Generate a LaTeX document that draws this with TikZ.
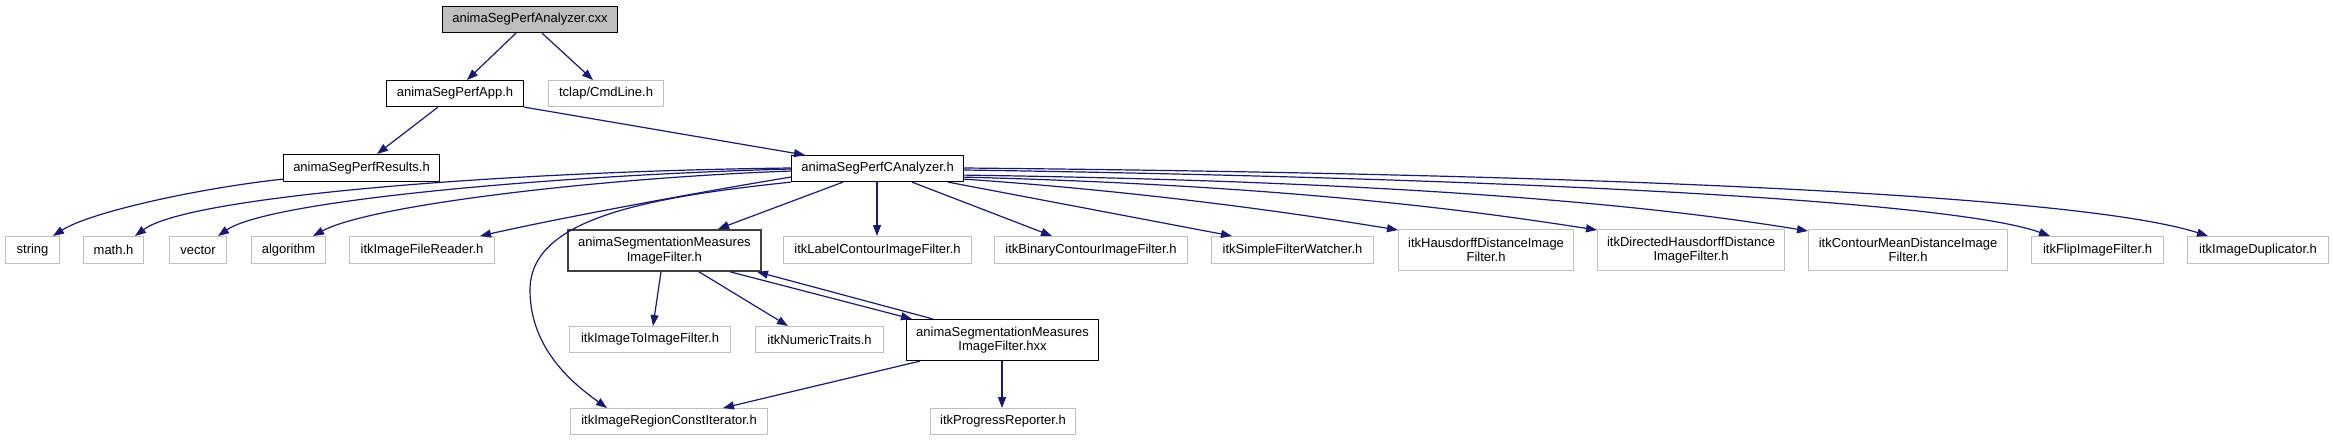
\documentclass[tikz,border=0pt]{standalone}
\usepackage{fontspec}
\setmainfont{Liberation Sans}
\usetikzlibrary{arrows.meta}
\definecolor{edgec}{HTML}{191970}
\definecolor{leafc}{HTML}{BFBFBF}
\definecolor{darkb}{HTML}{404040}
\definecolor{rootfill}{HTML}{BFBFBF}
\tikzset{
  basebox/.style={rectangle, inner sep=0pt, align=center, anchor=north west,
    font=\fontsize{13}{14.5}\selectfont, line width=1.1pt},
  leafbox/.style={basebox, draw=leafc},
  docbox/.style={basebox, draw=black},
  rootbox/.style={basebox, draw=black, fill=rootfill},
  midbox/.style={basebox, draw=darkb, line width=1.8pt},
  dep/.style={draw=edgec, line width=1.2pt, -{Triangle[length=11pt,width=8pt]}}
}
\newcommand\mkbox[7]{\node[#1, minimum width={#5-#3}, minimum height={#6-#4}] (#2) at (#3,#4) {#7};}
\begin{document}
\begin{tikzpicture}[x=1pt,y=-1pt]
\useasboundingbox (0,0) rectangle (2333,440);
% nodes
\mkbox{rootbox}{cxx}{442}{6}{617}{32}{animaSegPerfAnalyzer.cxx}
\mkbox{docbox}{app}{386}{80}{523}{106}{animaSegPerfApp.h}
\mkbox{leafbox}{tclap}{548}{80}{663}{106}{tclap/CmdLine.h}
\mkbox{docbox}{results}{283}{154}{439}{181}{animaSegPerfResults.h}
\mkbox{docbox}{canal}{791}{155}{963}{181}{animaSegPerfCAnalyzer.h}
\mkbox{leafbox}{string}{5}{236}{59}{263}{string}
\mkbox{leafbox}{math}{83}{236}{143}{263}{math.h}
\mkbox{leafbox}{vector}{169}{236}{226}{263}{vector}
\mkbox{leafbox}{algorithm}{251}{236}{325}{263}{algorithm}
\mkbox{leafbox}{reader}{349}{236}{494}{263}{itkImageFileReader.h}
\mkbox{midbox}{segh}{567}{229}{760}{270}{animaSegmentationMeasures\\ImageFilter.h}
\mkbox{leafbox}{label}{783}{236}{971}{263}{itkLabelContourImageFilter.h}
\mkbox{leafbox}{binary}{994}{236}{1187}{263}{itkBinaryContourImageFilter.h}
\mkbox{leafbox}{watcher}{1211}{236}{1373}{263}{itkSimpleFilterWatcher.h}
\mkbox{leafbox}{hausdorff}{1398}{229}{1573}{270}{itkHausdorffDistanceImage\\Filter.h}
\mkbox{leafbox}{directed}{1597}{229}{1784}{270}{itkDirectedHausdorffDistance\\ImageFilter.h}
\mkbox{leafbox}{contourmean}{1808}{229}{2007}{270}{itkContourMeanDistanceImage\\Filter.h}
\mkbox{leafbox}{flip}{2031}{236}{2163}{263}{itkFlipImageFilter.h}
\mkbox{leafbox}{dup}{2187}{236}{2328}{263}{itkImageDuplicator.h}
\mkbox{leafbox}{toimage}{569}{326}{730}{352}{itkImageToImageFilter.h}
\mkbox{leafbox}{numeric}{755}{326}{883}{352}{itkNumericTraits.h}
\mkbox{docbox}{segx}{906}{319}{1098}{360}{animaSegmentationMeasures\\ImageFilter.hxx}
\mkbox{leafbox}{regioniter}{570}{408}{767}{434}{itkImageRegionConstIterator.h}
\mkbox{leafbox}{progress}{930}{408}{1075}{434}{itkProgressReporter.h}
% edges
\draw[dep] ([xshift=74pt]cxx.south west) -- ([xshift=81pt]app.north west);
\draw[dep] ([xshift=100pt]cxx.south west) -- ([xshift=45pt]tclap.north west);
\draw[dep] ([xshift=52pt]app.south west) -- ([xshift=94pt]results.north west);
\draw[dep] (app.south east) -- ([xshift=14pt]canal.north west);
\draw[dep] ([yshift=3pt]results.south west) .. controls (200,188) and (90,212) .. ([xshift=48pt]string.north west);
\draw[dep] ([yshift=-13pt]canal.north west) .. controls (520,171) and (190,195) .. ([xshift=52pt]math.north west);
\draw[dep] ([yshift=-14pt]canal.north west) .. controls (560,175) and (270,200) .. ([xshift=49pt]vector.north west);
\draw[dep] ([yshift=-16pt]canal.north west) .. controls (600,178) and (370,205) .. ([xshift=62pt]algorithm.north west);
\draw[dep] ([yshift=-22pt]canal.north west) .. controls (700,192) and (560,218) .. ([xshift=131pt]reader.north west);
\draw[dep] (canal.south west) .. controls (640,198) and (530,220) .. (530,290) .. controls (530,350) and (575,385) .. ([xshift=37pt]regioniter.north west);
\draw[dep] ([xshift=52pt]canal.south west) -- ([xshift=151pt]segh.north west);
\draw[dep] ([xshift=86pt]canal.south west) -- ([xshift=94pt]label.north west);
\draw[dep] ([xshift=121pt]canal.south west) -- ([xshift=58pt]binary.north west);
\draw[dep] ([xshift=157pt]canal.south west) -- ([xshift=21pt]watcher.north west);
\draw[dep] ([yshift=3pt]canal.south east) .. controls (1150,192) and (1300,214) .. ([yshift=-1pt]hausdorff.north west);
\draw[dep] ([yshift=5pt]canal.south east) .. controls (1300,186) and (1480,212) .. ([yshift=-1pt]directed.north west);
\draw[dep] ([yshift=7pt]canal.south east) .. controls (1450,182) and (1680,210) .. ([yshift=-2pt]contourmean.north west);
\draw[dep] ([yshift=-15pt]canal.north east) .. controls (1500,178) and (1950,200) .. ([xshift=19pt]flip.north west);
\draw[dep] ([yshift=-13pt]canal.north east) .. controls (1600,174) and (2080,195) .. ([xshift=21pt]dup.north west);
\draw[dep] ([xshift=94pt]segh.south west) -- ([xshift=84pt]toimage.north west);
\draw[dep] ([xshift=132pt]segh.south west) -- ([xshift=33pt]numeric.north west);
\draw[dep] ([xshift=163pt]segh.south west) -- ([xshift=6pt]segx.north west);
\draw[dep] ([xshift=27pt]segx.north west) -- ([xshift=190pt]segh.south west);
\draw[dep] ([xshift=14pt]segx.south west) -- ([xshift=153pt]regioniter.north west);
\draw[dep] ([xshift=96pt]segx.south west) -- ([xshift=72pt]progress.north west);
\end{tikzpicture}
\end{document}
